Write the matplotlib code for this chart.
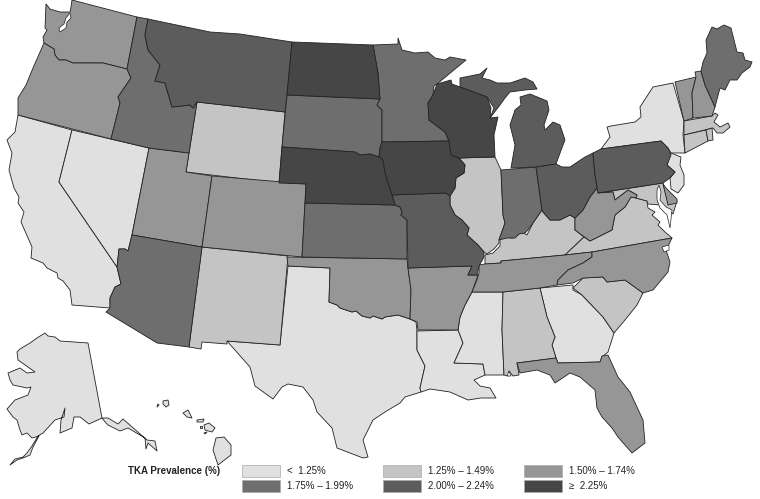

from matplotlib import pyplot as plt
from matplotlib.patches import Polygon, Rectangle

# outlines in image pixels (x, y)
WA = [(46, 4), (50, 9), (60, 12), (70, 12), (71, 7), (72, 0), (137, 17), (127, 69), (103, 63), (73, 63), (66, 60),
      (59, 60), (55, 55), (54, 49), (44, 43), (43, 37), (47, 30), (45, 28)]
OR = [(44, 43), (54, 49), (55, 55), (59, 60), (66, 60), (73, 63), (103, 63), (127, 69), (131, 78), (118, 97),
      (120, 103), (111, 139), (18, 115), (18, 98), (26, 85), (33, 68)]
CA = [(18, 115), (72, 130), (59, 182), (117, 267), (121, 284), (115, 287), (110, 298), (110, 308), (72, 305),
      (70, 290), (63, 281), (58, 278), (57, 273), (47, 268), (43, 263), (31, 258), (32, 247), (21, 222), (24, 212),
      (18, 203), (19, 197), (14, 188), (9, 170), (12, 153), (7, 140), (15, 132)]
NV = [(72, 130), (149, 148), (132, 235), (128, 251), (125, 249), (119, 249), (117, 267), (59, 182)]
ID = [(137, 17), (148, 19), (145, 35), (148, 50), (160, 65), (155, 81), (165, 83), (172, 107), (190, 105), (193, 108),
      (197, 102), (189, 153), (149, 148), (111, 139), (120, 103), (118, 97), (131, 78), (127, 69)]
MT = [(148, 19), (210, 32), (240, 34), (292, 42), (287, 95), (285, 112), (197, 102), (193, 108), (190, 105), (172, 107),
      (165, 83), (155, 81), (160, 65), (148, 50), (145, 35)]
WY = [(197, 102), (285, 112), (282, 147), (279, 183), (186, 172)]
UT = [(149, 148), (189, 153), (186, 172), (212, 176), (202, 247), (132, 235)]
CO = [(212, 176), (306, 184), (305, 203), (302, 257), (202, 247)]
AZ = [(132, 235), (202, 247), (189, 347), (157, 343), (106, 312), (110, 308), (110, 298), (115, 287), (121, 284),
      (117, 267), (119, 249), (125, 249), (128, 251)]
NM = [(202, 247), (288, 256), (280, 345), (227, 341), (227, 344), (202, 342), (201, 349), (189, 347)]
ND = [(292, 42), (373, 45), (378, 73), (380, 99), (287, 95)]
SD = [(287, 95), (380, 99), (377, 105), (382, 110), (382, 142), (380, 148), (379, 157), (370, 154), (360, 155),
      (355, 152), (282, 147)]
NE = [(282, 147), (355, 152), (360, 155), (370, 154), (379, 157), (383, 160), (385, 173), (392, 195), (395, 205),
      (305, 203), (306, 184), (279, 183)]
KS = [(305, 203), (395, 205), (400, 207), (402, 212), (401, 215), (407, 220), (407, 259), (302, 257)]
OK = [(287, 257), (407, 259), (408, 268), (411, 290), (410, 319), (398, 315), (385, 317), (382, 319), (373, 316),
      (370, 318), (362, 316), (356, 311), (352, 312), (340, 308), (337, 305), (329, 302), (330, 268), (288, 266)]
TX = [(288, 266), (330, 268), (329, 302), (337, 305), (340, 308), (352, 312), (356, 311), (362, 316), (370, 318),
      (373, 316), (382, 319), (385, 317), (398, 315), (410, 319), (416, 322), (417, 331), (417, 350), (425, 366),
      (420, 388), (421, 392), (405, 397), (400, 403), (385, 412), (373, 420), (363, 440), (368, 457), (363, 458),
      (337, 448), (332, 428), (317, 412), (313, 400), (303, 387), (288, 384), (282, 387), (273, 399), (255, 386),
      (250, 367), (227, 341), (280, 345)]
MN = [(373, 45), (398, 44), (398, 38), (402, 50), (415, 53), (428, 52), (435, 58), (445, 60), (450, 57), (466, 60),
      (437, 84), (434, 86), (433, 95), (428, 103), (429, 120), (445, 132), (449, 141), (382, 142), (382, 110),
      (377, 105), (380, 99), (378, 73)]
IA = [(382, 142), (449, 141), (451, 155), (459, 158), (465, 165), (464, 173), (456, 178), (455, 188), (450, 196),
      (446, 193), (392, 195), (385, 173), (383, 160), (379, 157), (380, 148)]
MO = [(392, 195), (446, 193), (450, 196), (450, 205), (455, 215), (462, 220), (469, 228), (467, 235), (478, 245),
      (484, 252), (484, 257), (479, 266), (477, 275), (468, 275), (472, 266), (408, 268), (407, 220), (401, 215),
      (402, 212), (400, 207), (395, 205)]
AR = [(408, 268), (472, 266), (468, 275), (478, 275), (472, 292), (465, 305), (460, 317), (458, 330), (418, 330),
      (417, 322), (410, 319), (411, 290)]
LA = [(417, 331), (458, 330), (460, 335), (463, 343), (454, 363), (483, 364), (485, 375), (474, 380), (480, 386),
      (490, 388), (496, 398), (481, 398), (468, 400), (450, 392), (430, 389), (421, 392), (420, 388), (425, 366),
      (417, 350)]
WI = [(437, 84), (451, 80), (452, 84), (460, 87), (487, 97), (491, 108), (490, 118), (498, 117), (494, 135), (495, 157),
      (459, 158), (451, 155), (449, 141), (445, 132), (429, 120), (428, 103), (433, 95)]
IL = [(459, 158), (495, 157), (501, 170), (503, 215), (505, 223), (499, 240), (499, 243), (494, 249), (487, 254),
      (484, 252), (478, 245), (467, 235), (469, 228), (462, 220), (455, 215), (450, 205), (450, 196), (455, 188),
      (456, 178), (464, 173), (465, 165)]
IN = [(501, 170), (536, 167), (542, 210), (535, 220), (528, 230), (525, 233), (519, 234), (515, 238), (507, 238),
      (499, 240), (505, 223), (503, 215)]
MI_UPPER = [(460, 87), (460, 78), (480, 74), (487, 68), (482, 78), (490, 80), (497, 83), (510, 83), (525, 78),
            (533, 82), (537, 89), (525, 90), (510, 92), (505, 98), (500, 105), (490, 118), (494, 108), (487, 97)]
MI_LOWER = [(511, 168), (537, 167), (556, 164), (563, 145), (565, 140), (560, 125), (553, 122), (545, 130), (544, 125),
            (549, 110), (547, 101), (530, 94), (520, 97), (521, 105), (515, 110), (510, 125), (515, 145)]
OH = [(536, 167), (556, 164), (562, 167), (570, 167), (585, 157), (593, 153), (595, 175), (597, 188), (590, 197),
      (583, 210), (575, 218), (570, 215), (560, 220), (550, 220), (543, 212), (542, 210)]
KY = [(485, 264), (485, 255), (493, 253), (500, 246), (500, 237), (513, 238), (522, 232), (527, 235), (533, 223),
      (542, 210), (543, 212), (550, 220), (560, 220), (570, 215), (575, 218), (575, 230), (584, 237), (565, 255),
      (501, 261), (501, 263)]
TN = [(479, 265), (485, 264), (501, 263), (501, 261), (565, 255), (592, 252), (592, 257), (583, 263), (568, 270),
      (558, 280), (557, 285), (540, 288), (503, 292), (472, 292), (477, 280), (479, 273)]
MS = [(472, 292), (503, 292), (502, 330), (504, 375), (490, 375), (485, 375), (483, 364), (454, 363), (463, 343),
      (460, 335), (458, 330), (460, 317), (465, 305)]
AL = [(503, 292), (540, 288), (547, 317), (555, 337), (552, 345), (556, 358), (517, 363), (519, 375), (513, 376),
      (509, 371), (508, 376), (504, 375), (502, 330)]
GA = [(540, 288), (573, 285), (573, 290), (582, 295), (603, 317), (614, 333), (608, 352), (602, 357), (600, 362),
      (558, 363), (556, 358), (552, 345), (555, 337), (547, 317)]
FL = [(517, 363), (556, 358), (558, 363), (600, 362), (602, 356), (608, 355), (618, 377), (630, 392), (643, 420),
      (645, 443), (632, 453), (618, 437), (612, 428), (602, 417), (597, 408), (595, 390), (580, 377), (570, 373),
      (555, 383), (550, 375), (537, 370), (520, 373)]
SC = [(573, 288), (583, 278), (603, 277), (607, 282), (625, 280), (643, 293), (637, 305), (625, 320), (614, 333),
      (603, 317), (582, 295)]
NC = [(592, 252), (672, 238), (666, 250), (670, 262), (668, 272), (653, 290), (643, 293), (625, 280), (607, 282),
      (603, 277), (583, 278), (573, 283), (557, 285), (558, 280), (568, 270), (583, 263), (592, 257)]
VA = [(565, 255), (584, 237), (590, 241), (612, 230), (615, 215), (625, 207), (631, 197), (636, 198), (647, 201),
      (648, 208), (655, 212), (652, 215), (660, 222), (658, 225), (665, 232), (672, 238), (592, 252)]
WV = [(575, 218), (583, 210), (590, 197), (597, 188), (598, 193), (613, 192), (615, 200), (628, 190), (637, 195),
      (636, 198), (631, 197), (625, 207), (615, 215), (612, 230), (590, 241), (575, 230)]
MD = [(598, 193), (663, 183), (668, 203), (677, 201), (673, 214), (666, 208), (660, 205), (648, 204), (647, 201),
      (636, 198), (637, 195), (628, 190), (615, 200), (613, 192)]
DE = [(663, 184), (666, 188), (677, 199), (677, 203), (668, 205)]
PA = [(593, 153), (601, 149), (661, 141), (668, 148), (671, 155), (667, 165), (675, 172), (670, 178), (663, 183),
      (598, 193), (595, 175)]
NY = [(601, 149), (610, 137), (607, 127), (611, 126), (635, 122), (641, 117), (640, 107), (653, 87), (673, 83),
      (684, 121), (683, 135), (685, 153), (671, 153), (668, 148), (661, 141)]
NJ = [(671, 153), (681, 157), (680, 165), (684, 175), (684, 185), (678, 193), (671, 189), (670, 178), (675, 172),
      (667, 165)]
VT = [(675, 82), (696, 77), (692, 93), (693, 118), (684, 121)]
NH = [(695, 72), (701, 71), (705, 85), (715, 107), (712, 116), (693, 118), (692, 93), (696, 77)]
ME = [(701, 71), (703, 62), (707, 53), (706, 40), (712, 27), (717, 29), (724, 25), (731, 28), (737, 52), (743, 53),
      (745, 60), (752, 62), (750, 67), (742, 73), (737, 80), (730, 80), (725, 90), (720, 88), (715, 107), (705, 85)]
MA = [(684, 121), (712, 116), (715, 113), (718, 115), (714, 122), (720, 127), (728, 123), (730, 127), (723, 133),
      (717, 133), (713, 128), (684, 135)]
CT = [(684, 135), (706, 130), (708, 141), (685, 153)]
RI = [(706, 130), (712, 128), (713, 140), (708, 141)]
AK = [(17, 352), (20, 349), (30, 343), (37, 338), (45, 333), (48, 336), (55, 337), (60, 341), (88, 343), (102, 418),
      (89, 424), (80, 417), (74, 417), (72, 428), (60, 433), (61, 420), (65, 408), (64, 417), (55, 420), (43, 433),
      (38, 436), (32, 446), (27, 453), (23, 457), (15, 459), (10, 465), (17, 460), (23, 458), (30, 455), (33, 447),
      (39, 436), (32, 438), (27, 433), (22, 435), (20, 430), (17, 420), (13, 417), (7, 409), (15, 400), (28, 395),
      (31, 387), (27, 388), (13, 385), (10, 380), (8, 373), (20, 368), (27, 373), (35, 372), (28, 367), (18, 360)]
AK_PANHANDLE = [(102, 418), (108, 418), (118, 424), (123, 419), (147, 440), (155, 441), (157, 451), (148, 443),
                (146, 449), (145, 438), (128, 428), (120, 431), (108, 425), (106, 423)]
HI_NIIHAU = [(157, 407), (158, 404), (159, 405)]
HI_KAUAI = [(163, 401), (168, 400), (169, 405), (166, 407), (163, 404)]
HI_OAHU = [(183, 413), (188, 410), (192, 418), (187, 417)]
HI_MOLOKAI = [(197, 420), (204, 419), (203, 422), (197, 422)]
HI_LANAI = [(200, 426), (202, 426), (202, 428), (200, 428)]
HI_MAUI = [(204, 425), (209, 423), (215, 428), (212, 432), (205, 430)]
HI_KAHOOLAWE = [(204, 433), (207, 432), (205, 434)]
HI_BIG = [(216, 438), (224, 437), (231, 445), (231, 455), (218, 465), (213, 450)]

# water cut out of the states
PUGET_SOUND = [(70, 13), (71, 18), (67, 22), (66, 28), (60, 32), (59, 28), (64, 24), (66, 18)]
CHESAPEAKE = [(657, 190), (659, 185), (661, 192), (660, 200), (666, 207), (672, 210), (670, 228), (667, 215),
              (660, 208), (657, 200)]
PAMLICO = [(662, 247), (669, 245), (669, 250), (664, 252)]
MOBILE_BAY = [(509, 371), (511, 376), (507, 376)]

# prevalence class per state, index into LEGEND_LABELS
CLASS_0 = [CA, NV, TX, LA, MS, GA, NY, NJ, AK, HI_NIIHAU, HI_KAUAI, HI_OAHU, HI_MOLOKAI, HI_LANAI, HI_MAUI,
           HI_KAHOOLAWE, HI_BIG, AK_PANHANDLE]
CLASS_1 = [WY, NM, IL, KY, VA, MD, AL, SC, MA, CT, RI]
CLASS_2 = [WA, OR, UT, CO, OK, AR, TN, NC, FL, WV, VT, NH, DE]
CLASS_3 = [ID, AZ, SD, KS, MN, IN, ME]
CLASS_4 = [MT, MO, MI_UPPER, MI_LOWER, OH, PA]
CLASS_5 = [ND, NE, IA, WI]
WATER = [PUGET_SOUND, CHESAPEAKE, PAMLICO, MOBILE_BAY]

LEGEND_TITLE = "TKA Prevalence (%)"
LEGEND_LABELS = ["<  1.25%", "1.25% \u2013 1.49%", "1.50% \u2013 1.74%",
                 "1.75% \u2013 1.99%", "2.00% \u2013 2.24%", "\u2265  2.25%"]
COLORS = ["#e0e0e0", "#c4c4c4", "#969696", "#6e6e6e", "#5c5c5c", "#464646"]

plt.rcParams["font.family"] = ["Liberation Sans", "DejaVu Sans"]

figure = plt.figure(figsize=(7.6, 4.99), dpi=100)
axis = figure.add_axes([0, 0, 1, 1])
axis.set_xlim(0, 760)
axis.set_ylim(499, 0)
axis.axis("off")

for states, color in zip([CLASS_0, CLASS_1, CLASS_2, CLASS_3, CLASS_4, CLASS_5], COLORS):
    for outline in states:
        axis.add_patch(Polygon(outline, closed=True, facecolor=color, edgecolor="#222222",
                               linewidth=0.6, joinstyle="round"))

for outline in WATER:
    axis.add_patch(Polygon(outline, closed=True, facecolor="white", edgecolor="#222222",
                           linewidth=0.5, zorder=3))

axis.text(128, 471.5, LEGEND_TITLE, fontsize=7.0, fontweight="bold", va="center", ha="left", color="#222222")
swatch_x = [242, 383, 524, 242, 383, 524]
swatch_y = [465, 465, 465, 480, 480, 480]
for x_value, y_value, color, label in zip(swatch_x, swatch_y, COLORS, LEGEND_LABELS):
    axis.add_patch(Rectangle((x_value, y_value), 38, 11.5, facecolor=color, edgecolor="#aaaaaa", linewidth=0.5))
    axis.text(x_value + 45, y_value + 6, label, fontsize=7.0, va="center", ha="left", color="#222222")

figure.savefig("out.png", dpi=100)
